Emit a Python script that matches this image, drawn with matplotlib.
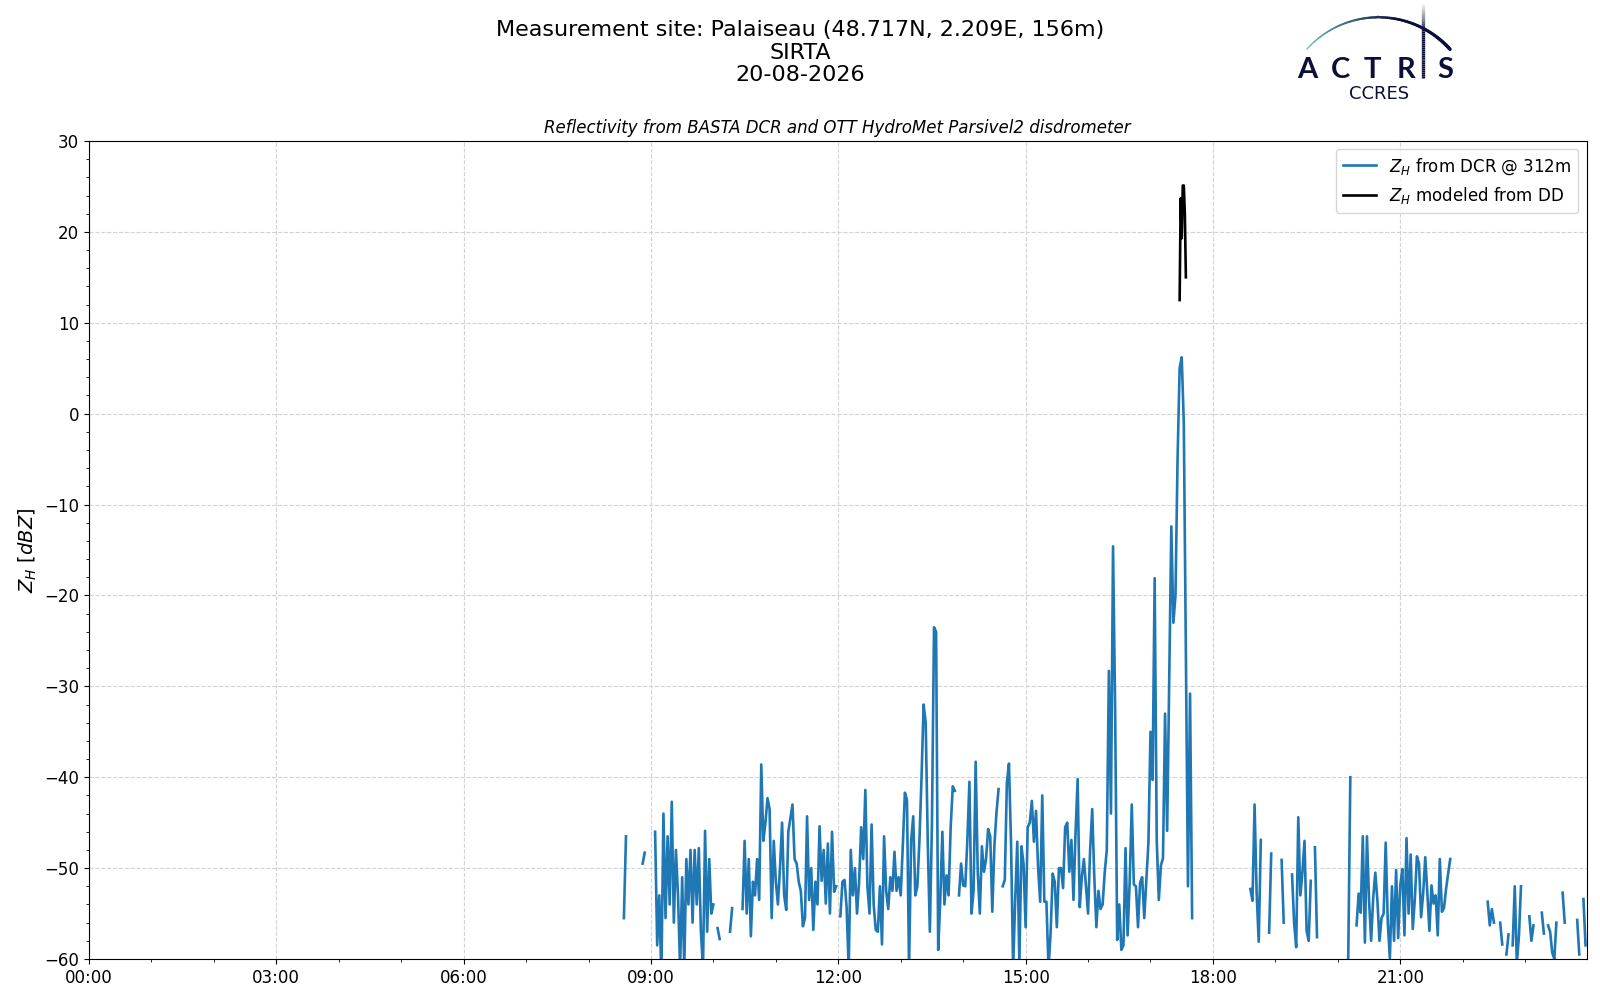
import numpy as np
import pandas as pd
import matplotlib
matplotlib.use('Agg')
import matplotlib.pyplot as plt
import matplotlib.dates as mdates
from matplotlib.collections import LineCollection
from matplotlib.ticker import AutoMinorLocator

nan = np.nan
day = pd.Timestamp('2026-08-20')

# Z_H from the DCR at 312 m, one value every 2 min, one list per hour
dcr_08h = [nan] * 17 + [-55.5, -46.5] + [nan] * 7 + [-49.5, -48.3] + [nan] * 2
dcr_09h = [nan, nan, -46, -58.5, -53, -62, -44, -55.5, -46.5, -54, -42.7, -56, -48, -53, -61,
           -51, -61, -49, -54, -48, -56, -48, -54, -47.8, -57, -61, -45.9, -57, -49, -55]
dcr_10h = [-54, nan, -56.6, -57.8, nan, nan, nan, nan, -57, -54.4, nan, nan, nan, nan, -54.5,
           -47, -55, -49, -57.5, -51.5, -53, -49, -53.5, -38.6, -47, -45, -42.3, -43.5, -55.5, -47]
dcr_11h = [-51.5, -54, -50, -45, -53, -54.6, -46, -44.5, -43, -49, -49.5, -51.5, -52.5, -56.4, -55.5,
           -44.3, -53.5, -50, -56.8, -51.5, -54, -45.4, -51.4, -48, -53.9, -47.3, -55, -46, -52.6, -52]
dcr_12h = [nan, -55.3, -51.5, -51.3, -54.3, -61, -48, -53, -50, -55, -51.5, -45.5, -49, -41.4, -52,
           -55, -45.2, -54, -56.8, -57, -52, -58.4, -46.5, -52.5, -54.5, -51, -52.5, -48.2, -52.5, -51]
dcr_13h = [-53, -47.5, -41.7, -42.5, -61, -47, -44.3, -53, -52, -46.9, -40, -32, -34, -47.3, -57,
           -45, -23.5, -24, -59, -53.5, -46, -54, -50.8, -53, -45.5, -41, -41.5, nan, -53, -49.5]
dcr_14h = [-51.9, -52, -47, -40.5, -55, -52.5, -38.3, -50.4, -55, -47.6, -50.4, -49, -45.7, -46.5, -54.8,
           -47.5, -43.9, -41.3, nan, -52, -51.3, -40.6, -38.5, -47.3, -61, -53.5, -47.1, -60.5, -47.6, -49.5]
dcr_15h = [-56.5, -45.5, -45, -42.6, -47.1, -43.7, -50, -53.7, -42, -53.7, -53.7, -61, -57.2, -50.6, -51.5,
           -56.5, -50, -50, -52.2, -45.5, -45, -50.4, -46.9, -53.5, -46, -40.2, -54.3, -51, -49, -52]
dcr_16h = [-55, -48, -43.5, -51, -56.5, -52.5, -54.5, -54, -50.5, -48, -28.3, -44, -14.6, -32.4, -57.9,
           -54, -59, -58.5, -47.8, -57.4, -51.5, -43, -51.8, -52, -56.5, -51.6, -51, -55.5, -51.3, -47.2]
dcr_17h = [-35, -40.3, -18.1, -47, -53.5, -49.7, -48.9, -33, -45.9, -29.2, -12.4, -23, -20, -5, 5,
           6.2, -1, -27, -52, -30.8, -55.5] + [nan] * 9
dcr_18h = [nan] * 18 + [-52.3, -53.6, -43, -52.8, -58.1, -46.9, nan, nan, nan, -57.1, -48.4, nan]
dcr_19h = [nan, nan, nan, -49.1, -56, nan, nan, nan, -50.7, -56, -58.7, -44.4, -53, -50.4, -47,
           -56.9, -58, -51.4, nan, -47.7, -57.6] + [nan] * 9
dcr_20h = [nan] * 5 + [-59.9, -40, nan, nan, -56.3, -52.8, -54.9, -46.5, -58.2, -46.5, -53.5, -58, -53.3,
           -50.5, -53.5, -58, -55.5, -55, -47.2, -56, -59.9, -52, -58, -50.2, -57.7]
dcr_21h = [-51.9, -50.1, -57.4, -46.7, -55, -48.5, -56.7, -53.4, -48.7, -49.5, -55.4, -52.8, -48.8, -52.7,
           -56.9, -51.9, -53.9, -53, -57.4, -49, -54.8, -54.4, -52.3, -50.6, -49] + [nan] * 5
dcr_22h = [nan] * 12 + [-53.7, -56.3, -54.5, -56, nan, nan, -56, -58.4, nan, -59.5, -57.3, nan,
           -58.5, -52, -60.5, -57.5, -52, nan]
dcr_23h = [nan, nan, -55.3, -58, -56.3, nan, nan, nan, -54.9, -57.2, nan, -56.3, -57, -59.3, -60,
           -56, nan, nan, -52.7, -56, nan, nan, nan, nan, nan, -55.7, -59.5, nan, -53.4, -58.5]

dcr_hours = [8, 9, 10, 11, 12, 13, 14, 15, 16, 17, 18, 19, 20, 21, 22, 23]
dcr_lists = [dcr_08h, dcr_09h, dcr_10h, dcr_11h, dcr_12h, dcr_13h, dcr_14h, dcr_15h,
             dcr_16h, dcr_17h, dcr_18h, dcr_19h, dcr_20h, dcr_21h, dcr_22h, dcr_23h]

# Z_H modeled from the disdrometer (minutes after midnight)
dd_minutes = [1048, 1049, 1050, 1051, 1052, 1053, 1054]
dd_dbz = [12.5, 23.7, 19.3, 25.1, 25.1, 22.0, 15.0]

dcr_min = np.concatenate([h * 60 + 2 * np.arange(len(v)) for h, v in zip(dcr_hours, dcr_lists)])
dcr_val = np.concatenate([np.array(v, dtype=float) for v in dcr_lists])
dcr_time = day + pd.to_timedelta(dcr_min, unit='min')
dd_time = day + pd.to_timedelta(dd_minutes, unit='min')

fig = plt.figure(figsize=(16, 10), dpi=100)
ax = fig.add_axes([0.0556, 0.041, 0.936, 0.818])

ax.plot(dcr_time, dcr_val, color='#1f77b4', lw=1.9, label=r'$Z_H$ from DCR @ 312m')
ax.plot(dd_time, dd_dbz, color='black', lw=1.9, label=r'$Z_H$ modeled from DD')

ax.set_xlim(day, day + pd.Timedelta(minutes=1439))
ax.set_ylim(-60, 30)
ax.xaxis.set_major_locator(mdates.HourLocator(byhour=range(0, 24, 3)))
ax.xaxis.set_minor_locator(mdates.HourLocator())
ax.xaxis.set_major_formatter(mdates.DateFormatter('%H:%M'))
ax.yaxis.set_minor_locator(AutoMinorLocator())
ax.tick_params(labelsize=12)
ax.grid(True, which='major', ls='--', color='lightgrey', lw=0.8)
ax.set_ylabel(r'$Z_H$ [$dBZ$]', fontsize=14)
ax.set_title('Reflectivity from BASTA DCR and OTT HydroMet Parsivel2 disdrometer',
             style='italic', fontsize=12)
ax.legend(loc='upper right', fontsize=12)

fig.text(0.5, 0.98, 'Measurement site: Palaiseau (48.717N, 2.209E, 156m)\nSIRTA\n20-08-2026',
         ha='center', va='top', fontsize=16, linespacing=1.16)

# ACTRIS CCRES logo, drawn in pixel coordinates
lg = fig.add_axes([0, 0, 1, 1], zorder=5)
lg.set_xlim(0, 1600)
lg.set_ylim(1000, 0)
lg.axis('off')
navy = '#0c0f3a'
phi = np.linspace(-0.84, 0.84, 80)
arc_x = 1378.4 + 96.2 * np.sin(phi)
arc_y = 113.5 - 96.2 * np.cos(phi)
pts = np.column_stack([arc_x, arc_y]).reshape(-1, 1, 2)
segs = np.concatenate([pts[:-1], pts[1:]], axis=1)
frac = np.linspace(0, 1, len(segs))
c0 = np.array(matplotlib.colors.to_rgb('#6cc7c2'))
c1 = np.array(matplotlib.colors.to_rgb(navy))
cols = [c0 + (c1 - c0) * min(1, f * 1.6) for f in frac]
lg.add_collection(LineCollection(segs, colors=cols, linewidths=0.9 + 1.6 * frac, capstyle='round'))
vy = np.linspace(2, 78, 40)
vp = np.column_stack([np.full_like(vy, 1423.3), vy]).reshape(-1, 1, 2)
vsegs = np.concatenate([vp[:-1], vp[1:]], axis=1)
valpha = np.clip(np.linspace(0, 1, len(vsegs)) * 2.5, 0, 1)
vcols = [(c1[0], c1[1], c1[2], a) for a in valpha]
lg.add_collection(LineCollection(vsegs, colors=vcols, linewidths=2.4))
for ch, cx in zip(['A', 'C', 'T', 'R', 'S'], [1307.4, 1340, 1372.4, 1405.7, 1445.7]):
    lg.text(cx, 78, ch, ha='center', va='baseline', fontsize=21, color=navy,
            family='Lato', fontweight='bold')
lg.text(1379, 99, 'CCRES', ha='center', va='baseline', fontsize=13, color=navy)

fig.savefig('out.png', dpi=100)
